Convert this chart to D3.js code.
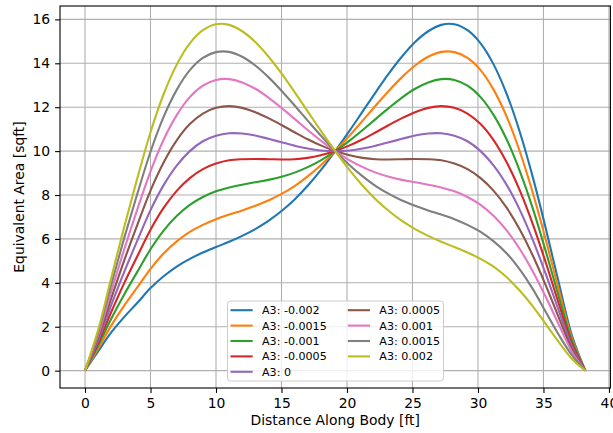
<!DOCTYPE html>
<html>
<head>
<meta charset="utf-8">
<script src="https://cdn.jsdelivr.net/npm/d3@7"></script>
<style>
  body { margin: 0; background: #fff; }
  svg { display: block; font-family: "DejaVu Sans", "Liberation Sans", sans-serif; }
</style>
</head>
<body>
<svg id="chart" width="613" height="433"></svg>
<script>
// Station along the body [ft]
const distance = [0, 1, 2, 3, 4, 5, 6, 7, 8, 9, 10, 11, 12, 13, 14, 15, 16, 17, 18, 19.1,
  20.2, 21.2, 22.2, 23.2, 24.2, 25.2, 26.2, 27.2, 28.2, 29.2, 30.2, 31.2, 32.2, 33.2, 34.2, 35.2, 36.2, 37.2, 38.2];

// Equivalent area [sqft] for each A3 coefficient
const areaA3m0020 = [0, 0.88, 1.74, 2.45, 3.09, 3.76, 4.30, 4.74, 5.09, 5.38, 5.63, 5.87, 6.14, 6.45, 6.82, 7.27, 7.80, 8.42, 9.13, 10.0,
  10.93, 11.81, 12.69, 13.54, 14.31, 14.97, 15.46, 15.75, 15.78, 15.51, 14.91, 13.94, 12.59, 10.86, 8.78, 6.42, 3.92, 1.55, 0];
const areaA3m0015 = [0, 1.00, 2.05, 2.97, 3.80, 4.64, 5.34, 5.89, 6.32, 6.64, 6.90, 7.11, 7.30, 7.51, 7.75, 8.05, 8.41, 8.85, 9.36, 10.0,
  10.71, 11.39, 12.08, 12.75, 13.37, 13.90, 14.30, 14.52, 14.51, 14.25, 13.69, 12.79, 11.56, 9.97, 8.07, 5.91, 3.61, 1.43, 0];
const areaA3m0010 = [0, 1.13, 2.36, 3.48, 4.51, 5.53, 6.38, 7.04, 7.55, 7.91, 8.17, 8.34, 8.47, 8.58, 8.69, 8.83, 9.02, 9.27, 9.58, 10.0,
  10.48, 10.96, 11.47, 11.97, 12.44, 12.84, 13.13, 13.28, 13.24, 12.98, 12.46, 11.64, 10.52, 9.08, 7.36, 5.39, 3.30, 1.31, 0];
const areaA3m0005 = [0, 1.25, 2.67, 4.00, 5.22, 6.42, 7.41, 8.19, 8.77, 9.18, 9.43, 9.58, 9.63, 9.64, 9.63, 9.62, 9.63, 9.69, 9.81, 10.0,
  10.26, 10.54, 10.86, 11.19, 11.50, 11.77, 11.97, 12.05, 11.97, 11.71, 11.23, 10.49, 9.48, 8.20, 6.65, 4.88, 2.99, 1.19, 0];
const areaA3p0000 = [0, 1.37, 2.98, 4.51, 5.93, 7.31, 8.45, 9.34, 10.00, 10.45, 10.70, 10.81, 10.80, 10.71, 10.56, 10.40, 10.25, 10.12, 10.03, 10.0,
  10.03, 10.12, 10.25, 10.40, 10.56, 10.71, 10.80, 10.81, 10.70, 10.45, 10.00, 9.34, 8.45, 7.31, 5.93, 4.36, 2.68, 1.07, 0];
const areaA3p0005 = [0, 1.49, 3.29, 5.03, 6.65, 8.20, 9.48, 10.49, 11.23, 11.71, 11.97, 12.05, 11.97, 11.77, 11.50, 11.19, 10.86, 10.54, 10.26, 10.0,
  9.81, 9.69, 9.63, 9.62, 9.63, 9.64, 9.63, 9.58, 9.43, 9.18, 8.77, 8.19, 7.41, 6.42, 5.22, 3.85, 2.37, 0.95, 0];
const areaA3p0010 = [0, 1.61, 3.60, 5.54, 7.36, 9.08, 10.52, 11.64, 12.46, 12.98, 13.24, 13.28, 13.13, 12.84, 12.44, 11.97, 11.47, 10.96, 10.48, 10.0,
  9.58, 9.27, 9.02, 8.83, 8.69, 8.58, 8.47, 8.34, 8.17, 7.91, 7.55, 7.04, 6.38, 5.53, 4.51, 3.33, 2.06, 0.83, 0];
const areaA3p0015 = [0, 1.73, 3.91, 6.06, 8.07, 9.97, 11.56, 12.79, 13.69, 14.25, 14.51, 14.52, 14.30, 13.90, 13.37, 12.75, 12.08, 11.39, 10.71, 10.0,
  9.36, 8.85, 8.41, 8.05, 7.75, 7.51, 7.30, 7.11, 6.90, 6.64, 6.32, 5.89, 5.34, 4.60, 3.70, 2.65, 1.60, 0.68, 0];
const areaA3p0020 = [0, 1.85, 4.22, 6.57, 8.78, 10.86, 12.59, 13.94, 14.91, 15.51, 15.78, 15.75, 15.46, 14.97, 14.31, 13.54, 12.69, 11.81, 10.93, 10.0,
  9.13, 8.42, 7.80, 7.27, 6.82, 6.45, 6.14, 5.87, 5.63, 5.38, 5.09, 4.74, 4.25, 3.64, 2.92, 2.10, 1.28, 0.52, 0];

const seriesLabels = ["A3: -0.002", "A3: -0.0015", "A3: -0.001", "A3: -0.0005", "A3: 0",
  "A3: 0.0005", "A3: 0.001", "A3: 0.0015", "A3: 0.002"];
const seriesValues = [areaA3m0020, areaA3m0015, areaA3m0010, areaA3m0005, areaA3p0000,
  areaA3p0005, areaA3p0010, areaA3p0015, areaA3p0020];

const xTicks = [0, 5, 10, 15, 20, 25, 30, 35, 40];
const yTicks = [0, 2, 4, 6, 8, 10, 12, 14, 16];

const palette = ["#1f77b4", "#ff7f0e", "#2ca02c", "#d62728", "#9467bd",
  "#8c564b", "#e377c2", "#7f7f7f", "#bcbd22"];

const box = { left: 60, right: 610.4, top: 6, bottom: 388 };
const svg = d3.select("#chart");

const x = d3.scaleLinear().domain([-1.91, 40.11]).range([box.left, box.right]);
const y = d3.scaleLinear().domain([-0.791, 16.61]).range([box.bottom, box.top]);

// grid
const grid = svg.append("g").attr("stroke", "#b0b0b0").attr("stroke-width", 1.1);
grid.selectAll(".gx").data(xTicks).join("line")
  .attr("x1", d => x(d)).attr("x2", d => x(d))
  .attr("y1", box.top).attr("y2", box.bottom);
grid.selectAll(".gy").data(yTicks).join("line")
  .attr("x1", box.left).attr("x2", box.right)
  .attr("y1", d => y(d)).attr("y2", d => y(d));

// curves
const line = d3.line()
  .x((d, i) => x(distance[i]))
  .y(d => y(d))
  .curve(d3.curveCatmullRom.alpha(0.5));

svg.append("g").attr("fill", "none").attr("stroke-width", 2.1).attr("stroke-linejoin", "round")
  .selectAll("path").data(seriesValues).join("path")
  .attr("stroke", (d, i) => palette[i])
  .attr("d", line);

// frame
svg.append("rect")
  .attr("x", box.left).attr("y", box.top)
  .attr("width", box.right - box.left).attr("height", box.bottom - box.top)
  .attr("fill", "none").attr("stroke", "#000").attr("stroke-width", 1.1);

// axes
const fontPx = 13.9;
const xAxis = svg.append("g").attr("transform", `translate(0,${box.bottom})`)
  .call(d3.axisBottom(x).tickValues(xTicks).tickFormat(d3.format("d")).tickSize(4.9).tickPadding(4.9));
const yAxis = svg.append("g").attr("transform", `translate(${box.left},0)`)
  .call(d3.axisLeft(y).tickValues(yTicks).tickFormat(d3.format("d")).tickSize(4.9).tickPadding(4.9));
[xAxis, yAxis].forEach(g => {
  g.select(".domain").remove();
  g.selectAll(".tick line").attr("stroke", "#000").attr("stroke-width", 1.1);
  g.selectAll(".tick text").attr("fill", "#000")
    .style("font-size", fontPx + "px").style("font-family", '"DejaVu Sans", sans-serif');
});

svg.append("text")
  .attr("x", (box.left + box.right) / 2).attr("y", 425)
  .attr("text-anchor", "middle").style("font-size", fontPx + "px")
  .text("Distance Along Body [ft]");

svg.append("text")
  .attr("transform", `translate(24,${(box.top + box.bottom) / 2}) rotate(-90)`)
  .attr("text-anchor", "middle").style("font-size", fontPx + "px")
  .text("Equivalent Area [sqft]");

// legend (two columns, lower centre)
const legendFont = 11.1;
const legend = svg.append("g");
legend.append("rect")
  .attr("x", 227.5).attr("y", 301).attr("width", 216).attr("height", 80)
  .attr("rx", 3).attr("fill", "#fff").attr("fill-opacity", 0.8)
  .attr("stroke", "#cccccc").attr("stroke-width", 1);
const perCol = 5;
const colX = [230.5, 347.8];
seriesLabels.forEach((label, i) => {
  const col = Math.floor(i / perCol), row = i % perCol;
  const cy = 310.2 + row * 15.4;
  const gx = colX[col];
  legend.append("line")
    .attr("x1", gx).attr("x2", gx + 22.2).attr("y1", cy).attr("y2", cy)
    .attr("stroke", palette[i]).attr("stroke-width", 2.1);
  legend.append("text")
    .attr("x", gx + 31.5).attr("y", cy).attr("dy", "0.36em")
    .style("font-size", legendFont + "px")
    .text(label);
});
</script>
</body>
</html>
